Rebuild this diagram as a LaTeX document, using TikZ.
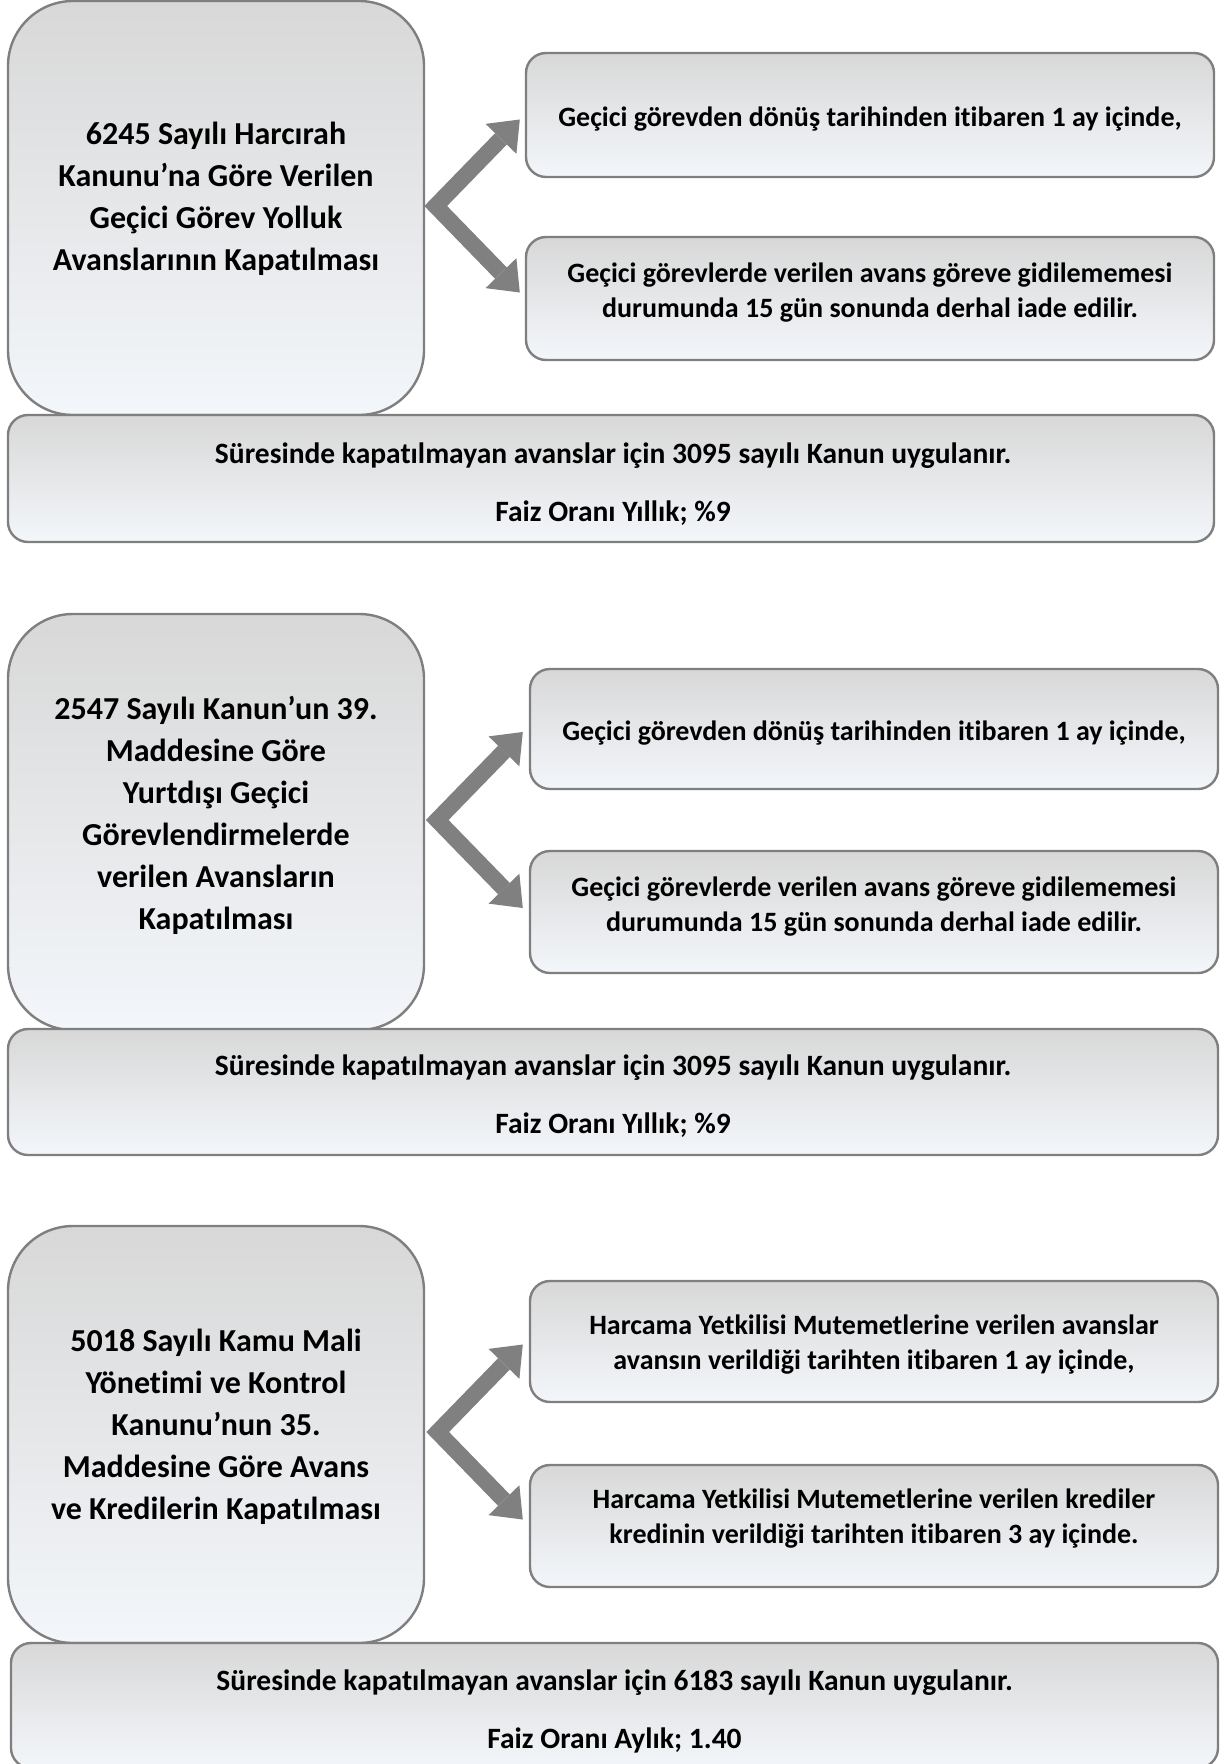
\documentclass[tikz,border=0pt]{standalone}
\usepackage{fontspec}
\setmainfont{Carlito}[Ligatures={NoCommon}]
\usetikzlibrary{arrows.meta,calc}
\definecolor{edgec}{HTML}{7F7F7F}
\definecolor{topc}{HTML}{D8D8D8}
\definecolor{botc}{HTML}{F3F6FA}
\definecolor{arrowc}{HTML}{808080}
\begin{document}
\begin{tikzpicture}[x=1bp,y=-1bp,
  boxbase/.style={draw=edgec, line width=2.4bp, top color=topc, bottom color=botc, inner sep=0pt},
  bigbox/.style={boxbase, rounded corners=65bp, minimum width=416bp},
  sidebox/.style={boxbase, rounded corners=20bp, minimum width=688bp},
  footbox/.style={boxbase, rounded corners=20bp},
  bigtext/.style={align=center, font=\fontsize{32bp}{42bp}\selectfont\bfseries, inner sep=0pt},
  sidetext/.style={align=center, font=\fontsize{28bp}{35bp}\selectfont\bfseries, inner sep=0pt},
  foottext/.style={align=center, font=\fontsize{29.5bp}{58bp}\selectfont\bfseries, inner sep=0pt},
  fatarrow/.style={draw=arrowc, line width=16.3bp, line join=miter,
    arrows={Triangle[length=27bp 0 0, width=43bp 0 0, line width=0pt]-Triangle[length=27bp 0 0, width=43bp 0 0, line width=0pt]}}
]
\useasboundingbox (0,0) rectangle (1221,1764);

% ---------- Section 1 ----------
\node[bigbox, minimum height=414bp] (big1) at (216,208) {};
\node[sidebox, minimum height=124bp] (r11) at (870,115) {};
\node[sidebox, minimum height=123bp] (r12) at (870,298.5) {};
\node[footbox, minimum width=1206bp, minimum height=127bp] (b1) at (611,478.5) {};
\node[bigtext] (tb1) at (216,198.5) {6245 Sayılı Harcırah\\Kanunu’na Göre Verilen\\Geçici Görev Yolluk\\Avanslarının Kapatılması};
\node[sidetext] (tr11) at (870,119) {Geçici görevden dönüş tarihinden itibaren 1 ay içinde,};
\node[sidetext] (tr12) at (870,292.5) {Geçici görevlerde verilen avans göreve gidilememesi\\durumunda 15 gün sonunda derhal iade edilir.};
\node[foottext] (tf1) at (613,484) {Süresinde kapatılmayan avanslar için 3095 sayılı Kanun uygulanır.\\Faiz Oranı Yıllık; \%9};
\coordinate (v1) at ($(big1.east)+(10.5,-2)$);
\coordinate (u1) at ($(r11.west)+(-5,4.5)$);
\coordinate (d1) at ($(r12.west)+(-5,-6)$);
\draw[fatarrow] (u1) -- (v1) -- (d1);

% ---------- Section 2 ----------
\node[bigbox, minimum height=416bp] (big2) at (216,822) {};
\node[sidebox, minimum height=120bp] (r21) at (874,729) {};
\node[sidebox, minimum height=122bp] (r22) at (874,912) {};
\node[footbox, minimum width=1210bp, minimum height=126bp] (b2) at (613,1092) {};
\node[bigtext] (tb2) at (216,815) {2547 Sayılı Kanun’un 39.\\Maddesine Göre\\Yurtdışı Geçici\\Görevlendirmelerde\\verilen Avansların\\Kapatılması};
\node[sidetext] (tr21) at (874,733) {Geçici görevden dönüş tarihinden itibaren 1 ay içinde,};
\node[sidetext] (tr22) at (874,906.5) {Geçici görevlerde verilen avans göreve gidilememesi\\durumunda 15 gün sonunda derhal iade edilir.};
\node[foottext] (tf2) at (613,1096) {Süresinde kapatılmayan avanslar için 3095 sayılı Kanun uygulanır.\\Faiz Oranı Yıllık; \%9};
\coordinate (v2) at ($(big2.east)+(12,-2)$);
\coordinate (u2) at ($(r21.west)+(-6,3)$);
\coordinate (d2) at ($(r22.west)+(-6,-4)$);
\draw[fatarrow] (u2) -- (v2) -- (d2);

% ---------- Section 3 ----------
\node[bigbox, minimum height=417bp] (big3) at (216,1434.5) {};
\node[sidebox, minimum height=121bp] (r31) at (874,1341.5) {};
\node[sidebox, minimum height=122bp] (r32) at (874,1526) {};
\node[footbox, minimum width=1207bp, minimum height=125bp] (b3) at (614.5,1705.5) {};
\node[bigtext] (tb3) at (216,1426.5) {5018 Sayılı Kamu Mali\\Yönetimi ve Kontrol\\Kanunu’nun 35.\\Maddesine Göre Avans\\ve Kredilerin Kapatılması};
\node[sidetext] (tr31) at (874,1345) {Harcama Yetkilisi Mutemetlerine verilen avanslar\\avansın verildiği tarihten itibaren 1 ay içinde,};
\node[sidetext] (tr32) at (874,1519) {Harcama Yetkilisi Mutemetlerine verilen krediler\\kredinin verildiği tarihten itibaren 3 ay içinde.};
\node[foottext] (tf3) at (614.5,1711.5) {Süresinde kapatılmayan avanslar için 6183 sayılı Kanun uygulanır.\\Faiz Oranı Aylık; 1.40};
\coordinate (v3) at ($(big3.east)+(12.5,-2.5)$);
\coordinate (u3) at ($(r31.west)+(-6,3)$);
\coordinate (d3) at ($(r32.west)+(-6,-6.5)$);
\draw[fatarrow] (u3) -- (v3) -- (d3);
\end{tikzpicture}
\end{document}
